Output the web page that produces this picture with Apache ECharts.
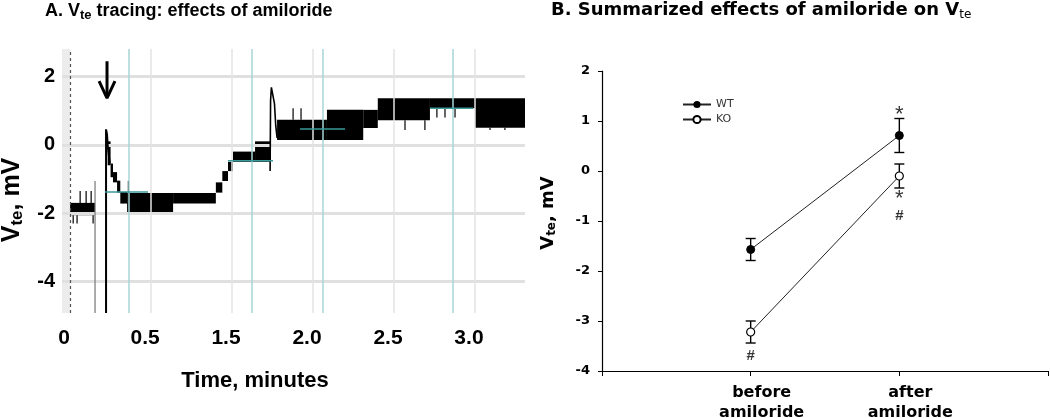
<!DOCTYPE html>
<html><head><meta charset="utf-8">
<script src="https://cdn.jsdelivr.net/npm/echarts@6/dist/echarts.min.js"></script>
<style>html,body{margin:0;padding:0;background:#fff}#c{width:1050px;height:418px}</style>
</head><body><div id="c"></div>
<script>
// ---------- Panel A: Vte tracing ----------
const xTickValuesA = [0, 0.5, 1, 1.5, 2, 2.5];
const xTickLabelsA = ['0', '0.5', '1.5', '2.0', '2.5', '3.0'];
const yTicksA = [2, 0, -2, -4];
const tealVLinesA = [0.356, 1.117, 1.556, 2.356];
// teal horizontal baselines: [tStart, tEnd, value]
const tealBaselinesA = [[0.216, 0.481, -1.38], [0.975, 1.253, -0.47], [1.42, 1.698, 0.46], [2.222, 2.488, 1.07]];
// noise band of trace: [tStart, tEnd, low, high]
const traceBands = [
  [0.000, 0.154, -2.06, -1.70],
  [0.232, 0.250, -0.60, 0.10],
  [0.250, 0.265, -0.95, -0.55],
  [0.265, 0.290, -1.10, -0.80],
  [0.290, 0.310, -1.40, -1.05],
  [0.310, 0.352, -1.72, -1.38],
  [0.352, 0.636, -2.00, -1.41],
  [0.636, 0.900, -1.72, -1.41],
  [0.900, 0.940, -1.40, -1.10],
  [0.940, 0.975, -1.06, -0.77],
  [0.975, 1.006, -0.77, -0.50],
  [1.006, 1.142, -0.50, -0.20],
  [1.142, 1.235, -0.50, 0.10],
  [1.278, 1.586, 0.14, 0.73],
  [1.586, 1.810, 0.14, 1.02],
  [1.810, 1.900, 0.49, 1.02],
  [1.900, 2.222, 0.72, 1.36],
  [2.222, 2.500, 1.07, 1.36],
  [2.500, 2.809, 0.50, 1.36]
];
// single spikes: [t, from, to]
const traceSpikes = [
  [0.019, -2.06, -2.30], [0.043, -2.06, -2.30], [0.062, -1.70, -1.35], [0.099, -1.70, -1.35],
  [0.130, -1.70, -1.35], [0.142, -2.06, -2.30], [0.360, -1.41, -1.06],
  [1.377, 0.73, 1.07], [1.426, 0.73, 1.07], [2.068, 0.72, 0.43], [2.191, 0.72, 0.43],
  [2.265, 1.07, 0.80], [2.315, 1.07, 0.80], [2.377, 1.07, 0.80], [2.593, 0.50, 0.43], [2.685, 0.50, 0.43]
];
const dropLineA = [[0.154, -1.06], [0.154, -4.92]];
const amilorideSpike = [[0.222, -4.92], [0.222, 0.45], [0.228, 0.30], [0.232, 0.00], [0.245, -0.55]];
const secondSpike = [[1.235, -0.77], [1.238, 1.30], [1.243, 1.68], [1.252, 1.45], [1.262, 1.20], [1.270, 0.55], [1.278, 0.20]];
const arrowShaft = [[0.228, 2.44], [0.228, 1.40]];
const arrowHead = [[0.179, 1.86], [0.228, 1.36], [0.277, 1.86]];

// ---------- Panel B: summarized effects ----------
const categoriesB = ['before\namiloride', 'after\namiloride'];
const wtMean = [-1.57, 0.71];
const wtSem = [0.22, 0.34];
const koMean = [-3.22, -0.10];
const koSem = [0.22, 0.24];
const annotX = [2, 2, 2, 1];
const annotY = [1.22, -0.45, -0.90, -3.70];
const annotText = ['*', '*', '#', '#'];

const FONT = 'Liberation Sans, Arial, sans-serif';
const FONTB = 'DejaVu Sans, Liberation Sans, sans-serif';
const chart = echarts.init(document.getElementById('c'), null, {renderer: 'canvas'});

function bandItem(params, api) {
  const p0 = api.coord([api.value(0), api.value(3)]);
  const p1 = api.coord([api.value(1), api.value(2)]);
  return {type: 'rect', shape: {x: p0[0], y: p0[1], width: p1[0] - p0[0], height: p1[1] - p0[1]}, style: {fill: '#000'}};
}
function spikeItem(params, api) {
  const p0 = api.coord([api.value(0), api.value(1)]);
  const p1 = api.coord([api.value(0), api.value(2)]);
  return {type: 'line', shape: {x1: p0[0], y1: p0[1], x2: p1[0], y2: p1[1]}, style: {stroke: '#000', lineWidth: 1.2}};
}
function errItem(params, api) {
  const x = api.value(0), m = api.value(1), e = api.value(2);
  const top = api.coord([x, m + e]), bot = api.coord([x, m - e]);
  const w = 5;
  return {type: 'group', children: [
    {type: 'line', shape: {x1: top[0], y1: top[1], x2: bot[0], y2: bot[1]}, style: {stroke: '#000', lineWidth: 1.4}},
    {type: 'line', shape: {x1: top[0] - w, y1: top[1], x2: top[0] + w, y2: top[1]}, style: {stroke: '#000', lineWidth: 1.4}},
    {type: 'line', shape: {x1: bot[0] - w, y1: bot[1], x2: bot[0] + w, y2: bot[1]}, style: {stroke: '#000', lineWidth: 1.4}}
  ]};
}

const lineA = (data, color, width) => ({
  type: 'line', xAxisIndex: 0, yAxisIndex: 0, data: data, symbol: 'none', silent: true,
  lineStyle: {color: color, width: width}, z: 5, animation: false
});

const option = {
  animation: false,
  backgroundColor: '#fff',
  textStyle: {fontFamily: FONT},
  grid: [
    {left: 62, top: 49, width: 463, height: 264, outerBoundsMode: 'none', containLabel: false},
    {left: 602, top: 71, width: 446, height: 300, outerBoundsMode: 'none', containLabel: false}
  ],
  xAxis: [
    {gridIndex: 0, type: 'value', min: -0.05, max: 2.809,
      axisLine: {show: false, onZero: false}, axisTick: {show: false}, splitLine: {show: false},
      axisLabel: {customValues: xTickValuesA, margin: 15, fontSize: 21, fontWeight: 'bold', color: '#000', fontFamily: FONT,
        padding: [0, 12, 0, 0],
        formatter: v => xTickLabelsA[Math.round(v * 2)]}},
    {gridIndex: 1, type: 'value', min: 0, max: 3, interval: 1,
      axisLine: {show: true, onZero: false, lineStyle: {color: '#000', width: 1.2}},
      axisTick: {show: true, length: 5, lineStyle: {color: '#000'}},
      splitLine: {show: false},
      axisLabel: {margin: 12, fontSize: 16, fontWeight: 'bold', color: '#000', fontFamily: FONTB, lineHeight: 20,
        padding: [0, 0, 0, 22],
        formatter: v => categoriesB[v - 1] || ''}}
  ],
  yAxis: [
    {gridIndex: 0, type: 'value', min: -4.92, max: 2.8,
      axisLine: {show: false, onZero: false}, axisTick: {show: false}, splitLine: {show: false},
      axisLabel: {customValues: yTicksA, margin: 7, fontSize: 20, fontWeight: 'bold', color: '#000', fontFamily: FONT}},
    {gridIndex: 1, type: 'value', min: -4, max: 2, interval: 1,
      axisLine: {show: true, onZero: false, lineStyle: {color: '#000', width: 1.2}},
      axisTick: {show: true, length: 4, lineStyle: {color: '#000'}},
      splitLine: {show: false},
      axisLabel: {margin: 12, fontSize: 13, fontWeight: 'bold', color: '#000', fontFamily: FONTB}}
  ],
  legend: {
    data: ['WT', 'KO'], orient: 'vertical', left: 677, top: 94,
    itemWidth: 28, itemHeight: 9, itemGap: 4,
    textStyle: {fontSize: 11, color: '#333', fontFamily: FONTB}
  },
  graphic: [
    {type: 'text', left: 45, top: 2, style: {
      text: '{m|A. V}{s|te}{m| tracing: effects of amiloride}',
      rich: {m: {fontSize: 18, fontWeight: 'bold', fontFamily: FONT, fill: '#000', lineHeight: 23},
             s: {fontSize: 13, fontWeight: 'bold', fontFamily: FONT, fill: '#000', padding: [8, 0, 0, 0]}}}},
    {type: 'text', left: 551, top: 1, style: {
      text: '{m|B. Summarized effects of amiloride on V}{s|te}',
      rich: {m: {fontSize: 18, fontWeight: 'bold', fontFamily: FONTB, fill: '#000', lineHeight: 22},
             s: {fontSize: 12, fontFamily: FONTB, fill: '#000', padding: [10, 0, 0, 0]}}}},
    {type: 'text', x: 12, y: 200, rotation: Math.PI / 2, style: {
      text: '{m|V}{s|te}{m|, mV}', align: 'center', verticalAlign: 'middle',
      rich: {m: {fontSize: 25, fontWeight: 'bold', fontFamily: FONT, fill: '#000', lineHeight: 28},
             s: {fontSize: 17, fontWeight: 'bold', fontFamily: FONT, fill: '#000', padding: [10, 0, 0, 0]}}}},
    {type: 'text', x: 548, y: 213, rotation: Math.PI / 2, style: {
      text: '{m|V}{s|te}{m|, mV}', align: 'center', verticalAlign: 'middle',
      rich: {m: {fontSize: 18, fontWeight: 'bold', fontFamily: FONTB, fill: '#000', lineHeight: 22},
             s: {fontSize: 12, fontWeight: 'bold', fontFamily: FONTB, fill: '#000', padding: [8, 0, 0, 0]}}}},
    {type: 'text', x: 255, y: 381, style: {
      text: 'Time, minutes', align: 'center', verticalAlign: 'middle',
      fontSize: 22, fontWeight: 'bold', fontFamily: FONT, fill: '#000'}}
  ],
  series: [
    // panel A grid, strip and reference lines
    {type: 'line', xAxisIndex: 0, yAxisIndex: 0, data: [], silent: true,
      markArea: {silent: true, itemStyle: {color: '#ececec'}, data: [[{xAxis: -0.05}, {xAxis: 0}]]},
      markLine: {silent: true, symbol: 'none', label: {show: false}, animation: false,
        data: [
          ...yTicksA.map(v => ({yAxis: v, lineStyle: {color: '#e0e0e0', width: 3, type: 'solid'}})),
          ...xTickValuesA.slice(1).map(v => ({xAxis: v, lineStyle: {color: '#e3e3e3', width: 1.5, type: 'solid'}})),
          ...tealVLinesA.map(v => ({xAxis: v, lineStyle: {color: '#a9d4d4', width: 1.5, type: 'solid'}})),
          {xAxis: 0, lineStyle: {color: '#555', width: 1.2, type: [3, 3]}}
        ]}},
    {type: 'custom', xAxisIndex: 0, yAxisIndex: 0, data: traceBands, renderItem: bandItem,
      encode: {x: [0, 1], y: [2, 3]}, silent: true, z: 4, clip: true},
    {type: 'custom', xAxisIndex: 0, yAxisIndex: 0, data: traceSpikes, renderItem: spikeItem,
      encode: {x: 0, y: [1, 2]}, silent: true, z: 4, clip: true},
    lineA(dropLineA, '#777', 1.2),
    lineA(amilorideSpike, '#000', 2),
    lineA(secondSpike, '#000', 1.6),
    ...tealBaselinesA.map(s => lineA([[s[0], s[2]], [s[1], s[2]]], '#3a9a9a', 1.5)),
    lineA(arrowShaft, '#000', 3),
    lineA(arrowHead, '#000', 3),
    // panel B
    {name: 'WT', type: 'line', xAxisIndex: 1, yAxisIndex: 1, data: wtMean.map((v, i) => [i + 1, v]),
      symbol: 'circle', symbolSize: 8, itemStyle: {color: '#000', borderColor: '#000'},
      lineStyle: {color: '#222', width: 1}, z: 6},
    {name: 'KO', type: 'line', xAxisIndex: 1, yAxisIndex: 1, data: koMean.map((v, i) => [i + 1, v]),
      symbol: 'circle', symbolSize: 8, itemStyle: {color: '#fff', borderColor: '#000', borderWidth: 1.2},
      lineStyle: {color: '#222', width: 1}, z: 6},
    {type: 'custom', xAxisIndex: 1, yAxisIndex: 1, renderItem: errItem, silent: true, z: 5,
      encode: {x: 0, y: 1},
      data: [...wtMean.map((v, i) => [i + 1, v, wtSem[i]]), ...koMean.map((v, i) => [i + 1, v, koSem[i]])]},
    {type: 'scatter', xAxisIndex: 1, yAxisIndex: 1, symbolSize: 1, itemStyle: {color: 'rgba(0,0,0,0)'}, silent: true, z: 7,
      data: annotText.map((t, i) => ({value: [annotX[i], annotY[i]],
        label: {show: true, position: 'inside', formatter: t, color: '#000', fontFamily: FONT,
          fontSize: t === '*' ? 22 : 15, fontWeight: t === '*' ? 'normal' : 'bold',
          offset: t === '*' ? [0, 5] : [0, 0]}}))}
  ]
};
chart.setOption(option);
</script></body></html>
